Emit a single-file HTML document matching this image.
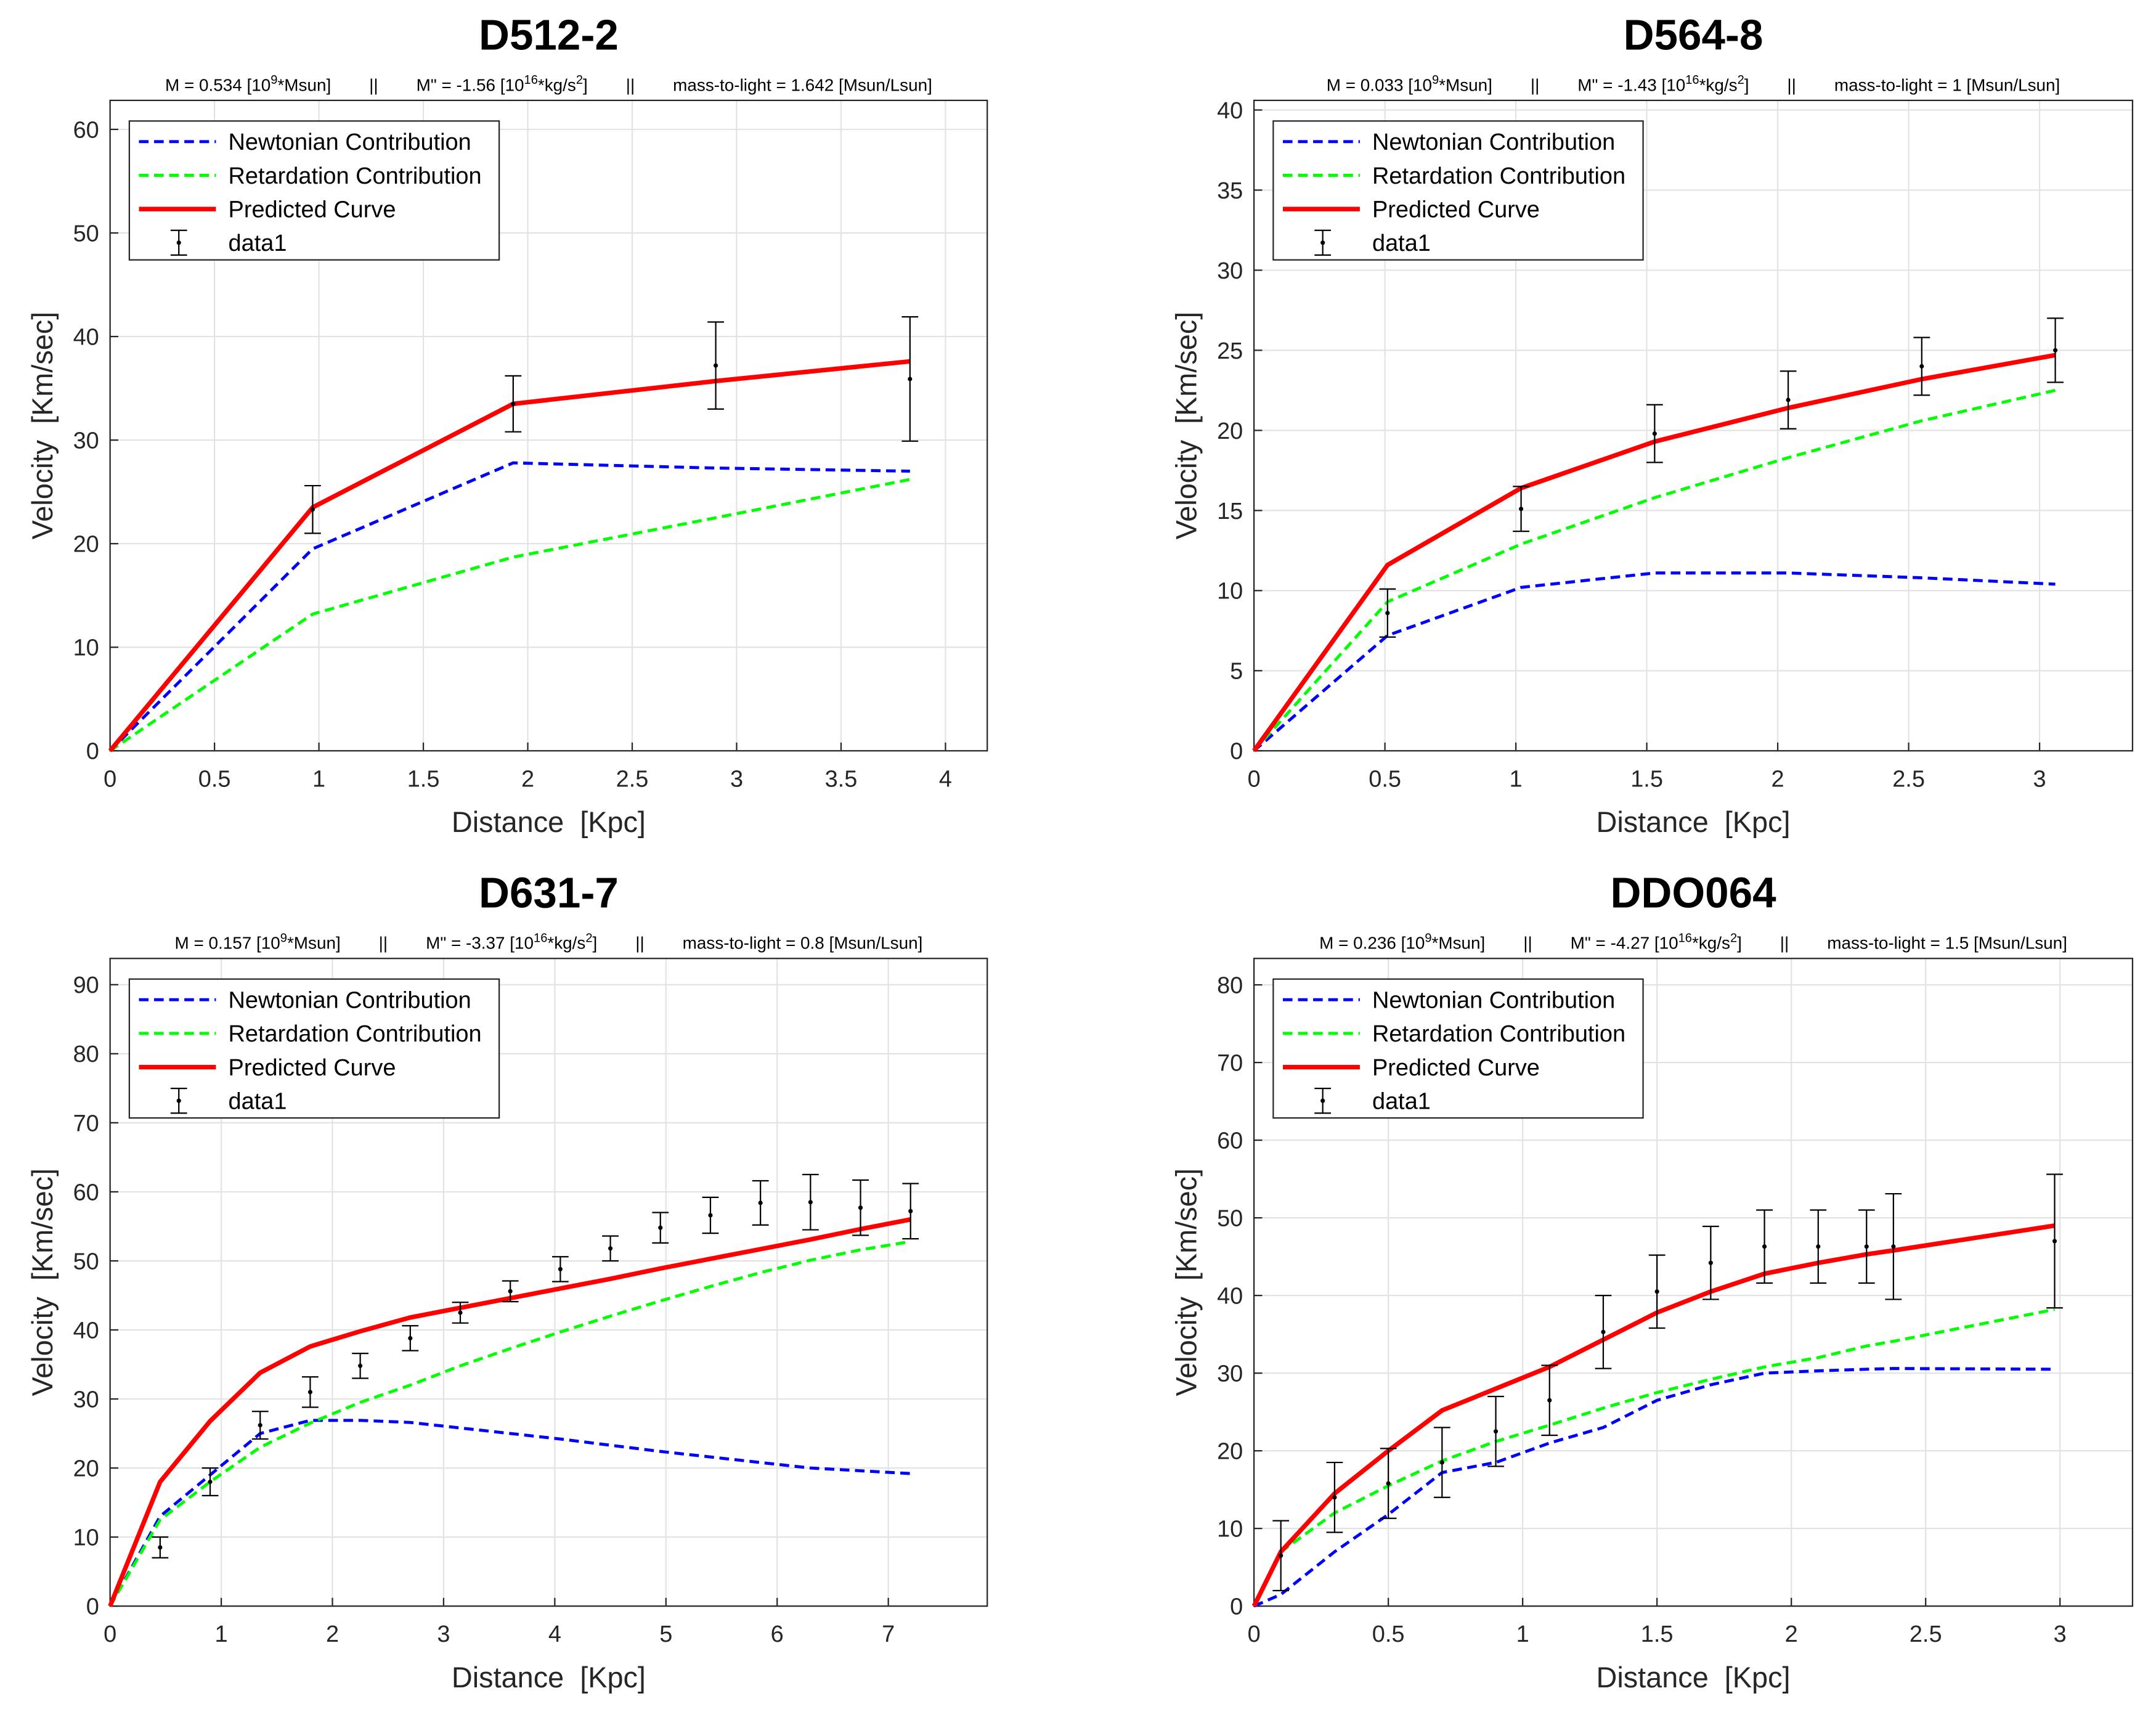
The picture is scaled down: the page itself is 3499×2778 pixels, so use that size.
<!DOCTYPE html>
<html><head><meta charset="utf-8"><style>
html,body{margin:0;padding:0;background:#fff}
svg{display:block;font-family:"Liberation Sans",Arial,sans-serif}
svg text{white-space:pre}
</style></head><body>
<svg id="chart" width="3499" height="2778" viewBox="0 0 1568 1245" xmlns="http://www.w3.org/2000/svg"></svg>
<script>
// Panel 1: D512-2
const p1X=[0,0.97,1.93,2.9,3.83];
const p1Newton=[0,19.5,27.8,27.3,27.0];
const p1Retard=[0,13.2,18.7,22.5,26.2];
const p1Pred=[0,23.5,33.5,35.7,37.6];
const p1DataX=[0.97,1.93,2.9,3.83];
const p1DataY=[23.3,33.5,37.2,35.9];
const p1Err=[2.3,2.7,4.2,6.0];
// Panel 2: D564-8
const p2X=[0,0.51,1.02,1.53,2.04,2.55,3.06];
const p2Newton=[0,7.2,10.2,11.1,11.1,10.8,10.4];
const p2Retard=[0,9.3,12.9,15.8,18.3,20.6,22.5];
const p2Pred=[0,11.6,16.4,19.3,21.4,23.2,24.7];
const p2DataX=[0.51,1.02,1.53,2.04,2.55,3.06];
const p2DataY=[8.6,15.1,19.8,21.9,24.0,25.0];
const p2Err=[1.5,1.4,1.8,1.8,1.8,2.0];
// Panel 3: D631-7
const p3X=[0,0.45,0.9,1.35,1.8,2.25,2.7,3.15,3.6,4.05,4.5,4.95,5.4,5.85,6.3,6.75,7.2];
const p3Newton=[0,13,19,25,26.9,26.9,26.6,25.8,25,24.2,23.3,22.4,21.6,20.8,20,19.6,19.2];
const p3Retard=[0,12.5,18,23,26.5,29.5,32,34.8,37.3,39.7,42,44.2,46.3,48.3,50.1,51.6,52.8];
const p3Pred=[0,18,26.8,33.8,37.6,39.8,41.8,43.2,44.6,46.0,47.4,48.9,50.3,51.7,53.1,54.6,56.0];
const p3DataX=[0.45,0.9,1.35,1.8,2.25,2.7,3.15,3.6,4.05,4.5,4.95,5.4,5.85,6.3,6.75,7.2];
const p3DataY=[8.5,18,26.2,31,34.8,38.8,42.5,45.6,48.8,51.8,54.8,56.6,58.4,58.5,57.7,57.2];
const p3Err=[1.5,2,2,2.2,1.8,1.8,1.5,1.5,1.8,1.8,2.2,2.6,3.2,4,4,4];
// Panel 4: DDO064
const p4X=[0,0.1,0.3,0.5,0.7,0.9,1.1,1.3,1.5,1.7,1.9,2.1,2.28,2.38,2.98];
const p4Newton=[0,1.5,7,11.8,17.2,18.5,21,23,26.5,28.5,30,30.3,30.5,30.6,30.5];
const p4Retard=[0,7,12,15.5,18.7,21.2,23.3,25.5,27.5,29.2,30.8,32,33.5,34.1,38.2];
const p4Pred=[0,7,14.5,20,25.2,28,30.8,34.3,37.8,40.5,42.8,44.2,45.3,45.8,49];
const p4DataX=[0.1,0.3,0.5,0.7,0.9,1.1,1.3,1.5,1.7,1.9,2.1,2.28,2.38,2.98];
const p4DataY=[6.5,14,15.8,18.5,22.5,26.5,35.3,40.5,44.2,46.3,46.3,46.3,46.3,47];
const p4Err=[4.5,4.5,4.5,4.5,4.5,4.5,4.7,4.7,4.7,4.7,4.7,4.7,6.8,8.6];
const xTicks1=[0,0.5,1,1.5,2,2.5,3,3.5,4];
const yTicks1=[0,10,20,30,40,50,60];
const xTicks2=[0,0.5,1,1.5,2,2.5,3];
const yTicks2=[0,5,10,15,20,25,30,35,40];
const xTicks3=[0,1,2,3,4,5,6,7];
const yTicks3=[0,10,20,30,40,50,60,70,80,90];
const xTicks4=[0,0.5,1,1.5,2,2.5,3];
const yTicks4=[0,10,20,30,40,50,60,70,80];

const NS="http://www.w3.org/2000/svg";
const svg=document.getElementById('chart');
function mk(tag,attrs,parent){const e=document.createElementNS(NS,tag);for(const k in attrs)e.setAttribute(k,attrs[k]);(parent||svg).appendChild(e);return e;}

const panels=[
 {id:'d512-2',title:'D512-2',sub:['0.534','-1.56','1.642'],bx:80,by:73,bw:638,bh:473,xmax:4.2,ymax:62.8,xt:xTicks1,yt:yTicks1,X:p1X,N:p1Newton,R:p1Retard,P:p1Pred,DX:p1DataX,DY:p1DataY,E:p1Err},
 {id:'d564-8',title:'D564-8',sub:['0.033','-1.43','1'],bx:912,by:73,bw:639,bh:473,xmax:3.355,ymax:40.6,xt:xTicks2,yt:yTicks2,X:p2X,N:p2Newton,R:p2Retard,P:p2Pred,DX:p2DataX,DY:p2DataY,E:p2Err},
 {id:'d631-7',title:'D631-7',sub:['0.157','-3.37','0.8'],bx:80,by:697,bw:638,bh:471,xmax:7.89,ymax:93.8,xt:xTicks3,yt:yTicks3,X:p3X,N:p3Newton,R:p3Retard,P:p3Pred,DX:p3DataX,DY:p3DataY,E:p3Err},
 {id:'ddo064',title:'DDO064',sub:['0.236','-4.27','1.5'],bx:912,by:697,bw:639,bh:471,xmax:3.27,ymax:83.4,xt:xTicks4,yt:yTicks4,X:p4X,N:p4Newton,R:p4Retard,P:p4Pred,DX:p4DataX,DY:p4DataY,E:p4Err}
];

panels.forEach(p=>{
 const g=mk('g',{});
 
 
 const sx=v=>p.bx+v/p.xmax*p.bw;
 const sy=v=>p.by+p.bh-v/p.ymax*p.bh;
 const cx=p.bx+p.bw/2;
 const t=mk('text',{x:cx,y:p.by-37,'text-anchor':'middle','font-size':31,'font-weight':'bold',fill:'#000'},g);
 t.textContent=p.title;
 
 
 const s=mk('text',{x:cx,y:p.by-7,'text-anchor':'middle','font-size':12.5,fill:'#000'},g);
 
 
 s.innerHTML='M = '+p.sub[0]+' [10<tspan dy="-5" font-size="9">9</tspan><tspan dy="5">*Msun]        ||        M" = '+p.sub[1]+' [10</tspan><tspan dy="-5" font-size="9">16</tspan><tspan dy="5">*kg/s</tspan><tspan dy="-5" font-size="9">2</tspan><tspan dy="5">]        ||        mass-to-light = '+p.sub[2]+' [Msun/Lsun]</tspan>';
 mk('rect',{x:p.bx,y:p.by,width:p.bw,height:p.bh,fill:'#fff'},g);
 p.xt.forEach(v=>{
  const gl=mk('line',{x1:sx(v),x2:sx(v),y1:p.by,y2:p.by+p.bh,stroke:'#e3e3e3','stroke-width':1},g);
  
  
  const tl=mk('text',{x:sx(v),y:p.by+p.bh+26,'text-anchor':'middle','font-size':17,fill:'#262626'},g);
  tl.textContent=String(v);
  
  
  mk('line',{x1:sx(v),x2:sx(v),y1:p.by+p.bh,y2:p.by+p.bh-6,stroke:'#262626'},g);
 });
 p.yt.forEach(v=>{
  const gl=mk('line',{x1:p.bx,x2:p.bx+p.bw,y1:sy(v),y2:sy(v),stroke:'#e3e3e3','stroke-width':1},g);
  
  
  const tl=mk('text',{x:p.bx-8,y:sy(v)+6,'text-anchor':'end','font-size':17,fill:'#262626'},g);
  tl.textContent=String(v);
  
  
  mk('line',{x1:p.bx,x2:p.bx+6,y1:sy(v),y2:sy(v),stroke:'#262626'},g);
 });
 const fr=mk('rect',{x:p.bx,y:p.by,width:p.bw,height:p.bh,fill:'none',stroke:'#262626','stroke-width':1},g);
 
 
 const xl=mk('text',{x:cx,y:p.by+p.bh+59,'text-anchor':'middle','font-size':21,fill:'#262626'},g);
 xl.textContent='Distance  [Kpc]';
 
 
 const yl=mk('text',{x:0,y:0,'text-anchor':'middle','font-size':21,fill:'#262626',transform:'translate('+(p.bx-42)+','+(p.by+p.bh/2)+') rotate(-90)'},g);
 yl.textContent='Velocity  [Km/sec]';
 
 
 const path=arr=>p.X.map((x,i)=>(i?'L':'M')+sx(x).toFixed(2)+','+sy(arr[i]).toFixed(2)).join('');
 const ln=mk('path',{d:path(p.N),fill:'none',stroke:'#0000ff','stroke-width':2.2,'stroke-dasharray':'7,4'},g);
 
 
 const lr=mk('path',{d:path(p.R),fill:'none',stroke:'#00ff00','stroke-width':2.2,'stroke-dasharray':'7,4'},g);
 
 
 const lp=mk('path',{d:path(p.P),fill:'none',stroke:'#ff0000','stroke-width':3.3},g);
 
 
 p.DX.forEach((x,i)=>{
  const X=sx(x),y=p.DY[i],e=p.E[i];
  const eg=mk('g',{stroke:'#000','stroke-width':1},g);
  
  
  mk('line',{x1:X,x2:X,y1:sy(y-e),y2:sy(y+e)},eg);
  mk('line',{x1:X-6,x2:X+6,y1:sy(y-e),y2:sy(y-e)},eg);
  mk('line',{x1:X-6,x2:X+6,y1:sy(y+e),y2:sy(y+e)},eg);
  mk('circle',{cx:X,cy:sy(y),r:1.6,fill:'#000',stroke:'none'},eg);
 });
 const lx=p.bx+14,ly=p.by+15;
 const lg=mk('g',{},g);
 
 
 mk('rect',{x:lx,y:ly,width:269,height:101,fill:'#fff',stroke:'#262626','stroke-width':1},lg);
 const items=[['Newtonian Contribution','#0000ff','7,4',2.2],['Retardation Contribution','#00ff00','7,4',2.2],['Predicted Curve','#ff0000','',3.3],['data1','','',0]];
 items.forEach((it,i)=>{
  const yy=ly+15+i*24.5;
  const eg=mk('g',{},lg);
  
  
  if(it[1]){
   const a={x1:lx+7,x2:lx+63,y1:yy,y2:yy,stroke:it[1],'stroke-width':it[3]};
   if(it[2])a['stroke-dasharray']=it[2];
   mk('line',a,eg);
  } else {
   const X=lx+36;
   mk('line',{x1:X,x2:X,y1:yy-9,y2:yy+9,stroke:'#000'},eg);
   mk('line',{x1:X-6,x2:X+6,y1:yy-9,y2:yy-9,stroke:'#000'},eg);
   mk('line',{x1:X-6,x2:X+6,y1:yy+9,y2:yy+9,stroke:'#000'},eg);
   mk('circle',{cx:X,cy:yy,r:1.6,fill:'#000'},eg);
  }
  const tx=mk('text',{x:lx+72,y:yy+6,'font-size':17,fill:'#000'},eg);
  tx.textContent=it[0];
 });
});
</script>
</body></html>
